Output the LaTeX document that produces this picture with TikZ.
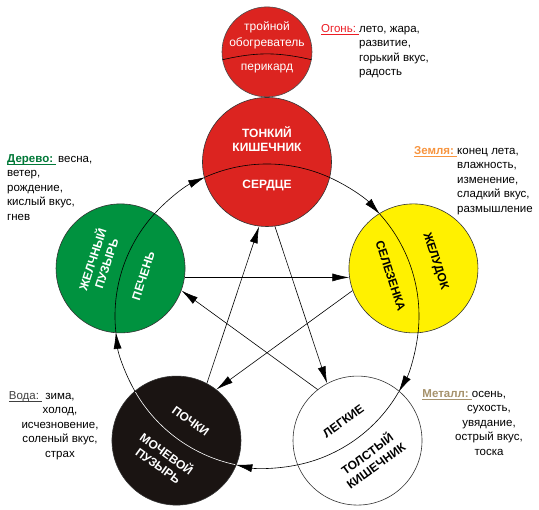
\documentclass[tikz,border=0pt]{standalone}
\usepackage{fontspec}
\setmainfont{Liberation Sans}
\usepackage{xcolor}
\usetikzlibrary{arrows.meta, positioning}

\definecolor{firered}{RGB}{220,36,32}
\definecolor{woodgreen}{RGB}{0,146,63}
\definecolor{earthyellow}{RGB}{255,241,0}
\definecolor{waterblack}{RGB}{26,20,18}
\definecolor{firekey}{RGB}{236,28,36}
\definecolor{woodkey}{RGB}{0,120,55}
\definecolor{earthkey}{RGB}{247,148,62}
\definecolor{waterkey}{RGB}{64,64,64}
\definecolor{metalkey}{RGB}{166,146,108}

\newcommand\elemkey[2]{{\color{#1}\setbox0=\hbox{#2\ }\rlap{\rule[-2.6pt]{\wd0}{1.1pt}}\box0}}

\tikzset{
  elem/.style={circle, draw=black!80, line width=0.6pt, minimum size=129pt, inner sep=0pt},
  organ/.style={font=\fontsize{12}{14.5}\selectfont\bfseries, align=center, inner sep=0pt},
  note/.style={font=\fontsize{11.5}{14.5}\selectfont, inner sep=0pt},
  ke/.style={-{Latex[length=17pt,width=8pt]}, line width=0.6pt},
  sheng/.style={-{Latex[length=17pt,width=8pt]}, line width=0.6pt},
}

\begin{document}
\begin{tikzpicture}[x=1pt, y=1pt]
  \useasboundingbox (-267,-194) rectangle (272,316);

  % The five elements
  \node[elem, fill=firered] (fire) at (90:154) {};
  \node[elem, fill=earthyellow] (earth) at (18:154) {};
  \node[elem, fill=white] (metal) at (-54:154) {};
  \node[elem, fill=waterblack] (water) at (-126:154) {};
  \node[elem, fill=woodgreen] (wood) at (162:154) {};
  \node[circle, draw=black!70, line width=0.6pt, fill=firered, minimum size=90pt, inner sep=0pt, above=0pt of fire] (heater) {};

  % Organ boundaries
  \draw[line width=0.6pt] (114:152) arc[start angle=114, end angle=66, radius=152];
  \draw[line width=0.6pt] (42:152) arc[start angle=42, end angle=-6, radius=152];
  \draw[line width=0.6pt] (-30:152) arc[start angle=-30, end angle=-78, radius=152];
  \draw[white, line width=0.6pt] (-102:152) arc[start angle=-102, end angle=-150, radius=152];
  \draw[line width=0.6pt] (-174:152) arc[start angle=-174, end angle=-222, radius=152];
  \draw[line width=0.6pt] (heater.190) to[bend left=13] (heater.-10);

  % Generating cycle
  \draw[sheng] (138:152) arc[start angle=138, end angle=114, radius=152];
  \draw[sheng] (66:152) arc[start angle=66, end angle=42, radius=152];
  \draw[sheng] (-6:152) arc[start angle=-6, end angle=-30, radius=152];
  \draw[sheng] (-78:152) arc[start angle=-78, end angle=-102, radius=152];
  \draw[sheng] (-150:152) arc[start angle=-150, end angle=-174, radius=152];

  % Controlling cycle
  \draw[ke] (water.62) -- (fire.-97);
  \draw[ke] (fire.-83) -- (metal.118);
  \draw[ke] (metal.128) -- (wood.-20);
  \draw[ke] (wood.-8) -- (earth.188);
  \draw[ke] (earth.200) -- (water.52);

  % Organ names
  \node[organ, text=white] (smallint) at (90:177) {ТОНКИЙ\\КИШЕЧНИК};
  \node[organ, text=white] (heart) at (90:130) {СЕРДЦЕ};
  \node[organ, rotate=-72] (stomach) at (18:177) {ЖЕЛУДОК};
  \node[organ, rotate=-72] (spleen) at (18:130) {СЕЛЕЗЕНКА};
  \node[organ, rotate=36] (colon) at (-54:177) {ТОЛСТЫЙ\\КИШЕЧНИК};
  \node[organ, rotate=36] (lungs) at (-54:130) {ЛЕГКИЕ};
  \node[organ, text=white, rotate=-36] (bladder) at (-126:177) {МОЧЕВОЙ\\ПУЗЫРЬ};
  \node[organ, text=white, rotate=-36] (kidneys) at (-126:130) {ПОЧКИ};
  \node[organ, text=white, rotate=72] (gallbl) at (162:177) {ЖЕЛЧНЫЙ\\ПУЗЫРЬ};
  \node[organ, text=white, rotate=72] (liver) at (162:130) {ПЕЧЕНЬ};
  \node[font=\fontsize{12}{16}\selectfont, text=white, align=center, inner sep=0pt] (triple) at ([yshift=17]heater.center) {тройной\\обогреватель};
  \node[font=\fontsize{12}{16}\selectfont, text=white, inner sep=0pt] (pericard) at ([yshift=-17]heater.center) {перикард};

  % Element notes
  \node[note, align=left, anchor=north west] (firenote) at (92,292) {\llap{\elemkey{firekey}{Огонь:}}лето, жара,\\развитие,\\горький вкус,\\радость};
  \node[note, align=left, anchor=north west] (woodnote) at (-260,162) {\elemkey{woodkey}{\bfseries Дерево:}\,весна,\\ветер,\\рождение,\\кислый вкус,\\гнев};
  \node[note, align=left, anchor=north west] (earthnote) at (190,170) {\llap{\elemkey{earthkey}{\bfseries Земля:}}конец лета,\\влажность,\\изменение,\\сладкий вкус,\\размышление};
  \node[note, align=center, anchor=north] (waternote) at (-207,-75) {\llap{\elemkey{waterkey}{Вода:}\ }зима,\\холод,\\исчезновение,\\соленый вкус,\\страх};
  \node[note, align=center, anchor=north] (metalnote) at (222,-73) {\llap{\elemkey{metalkey}{\bfseries Металл:}}осень,\\сухость,\\увядание,\\острый вкус,\\тоска};

\end{tikzpicture}
\end{document}
